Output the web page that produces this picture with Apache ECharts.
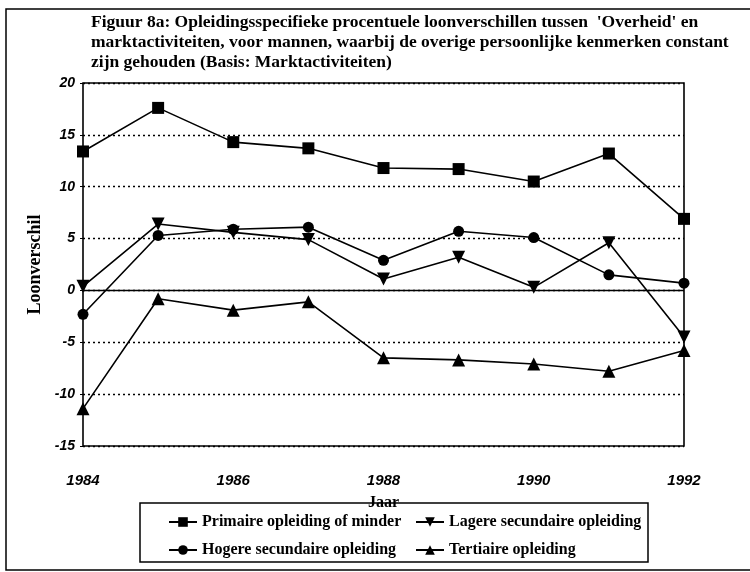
<!DOCTYPE html>
<html>
<head>
<meta charset="utf-8">
<script src="https://cdn.jsdelivr.net/npm/echarts@6/dist/echarts.min.js"></script>
<style>
  html, body { margin: 0; padding: 0; background: #fff; }
  #chart { width: 750px; height: 572px; }
</style>
</head>
<body>
<div id="chart"></div>
<script>
var dom = document.getElementById("chart");
var myChart = echarts.init(dom);

// data
var jaren = ['1984', '1985', '1986', '1987', '1988', '1989', '1990', '1991', '1992'];
var primaire = [13.4, 17.6, 14.3, 13.7, 11.8, 11.7, 10.5, 13.2, 6.9];
var lagere = [0.4, 6.4, 5.6, 4.9, 1.1, 3.2, 0.3, 4.6, -4.5];
var hogere = [-2.3, 5.3, 5.9, 6.1, 2.9, 5.7, 5.1, 1.5, 0.7];
var tertiaire = [-11.4, -0.8, -1.9, -1.1, -6.5, -6.7, -7.1, -7.8, -5.8];

var serif = 'Liberation Serif';
var legendText = { fontFamily: serif, fontWeight: 'bold', fontSize: 16, color: '#000' };

function lijn(naam, data, symbool, grootte) {
	return {
		name: naam,
		type: 'line',
		data: data,
		symbol: symbool,
		symbolSize: grootte,
		itemStyle: { color: '#000' },
		lineStyle: { color: '#000', width: 1.6 },
		animation: false
	};
}

function legenda(naam, left, top) {
	return {
		data: [naam],
		left: left,
		top: top,
		padding: 0,
		itemWidth: 28,
		itemHeight: 12,
		itemGap: 4,
		textStyle: legendText,
		selectedMode: false
	};
}

var series = [
	lijn('Primaire opleiding of minder', primaire, 'rect', 12),
	lijn('Hogere secundaire opleiding', hogere, 'circle', 11),
	lijn('Lagere secundaire opleiding', lagere, 'path://M0,0 L10,0 L5,9 Z', 13),
	lijn('Tertiaire opleiding', tertiaire, 'triangle', 13)
];
// nul-lijn
series[0].markLine = {
	silent: true,
	symbol: 'none',
	label: { show: false },
	lineStyle: { color: '#000', type: 'solid', width: 1.3 },
	data: [{ yAxis: 0 }]
};

option = {
	backgroundColor: '#fff',
	title: {
		text: "Figuur 8a: Opleidingsspecifieke procentuele loonverschillen tussen  'Overheid' en\nmarktactiviteiten, voor mannen, waarbij de overige persoonlijke kenmerken constant\nzijn gehouden (Basis: Marktactiviteiten)",
		left: 86,
		top: 7,
		textStyle: { fontFamily: serif, fontWeight: 'bold', fontSize: 17.5, lineHeight: 20, color: '#000' }
	},
	legend: [
		legenda('Primaire opleiding of minder', 168, 514),
		legenda('Lagere secundaire opleiding', 415, 514),
		legenda('Hogere secundaire opleiding', 168, 542),
		legenda('Tertiaire opleiding', 415, 542)
	],
	grid: {
		left: 83,
		right: 66,
		top: 83,
		bottom: 126,
		show: true,
		borderColor: '#000',
		borderWidth: 1.6,
		backgroundColor: 'transparent'
	},
	xAxis: {
		type: 'category',
		data: jaren,
		boundaryGap: false,
		name: 'Jaar',
		nameLocation: 'middle',
		nameGap: 49,
		nameTextStyle: { fontFamily: serif, fontWeight: 'bold', fontSize: 16, color: '#000' },
		axisLine: { show: false },
		axisTick: { show: false },
		axisLabel: {
			interval: 1,
			margin: 27,
			fontFamily: 'Liberation Sans',
			fontWeight: 'bold',
			fontStyle: 'italic',
			fontSize: 15,
			color: '#000'
		},
		splitLine: { show: false }
	},
	yAxis: {
		type: 'value',
		min: -15,
		max: 20,
		interval: 5,
		name: 'Loonverschil',
		nameLocation: 'middle',
		nameGap: 36,
		nameRotate: 90,
		nameTextStyle: { fontFamily: serif, fontWeight: 'bold', fontSize: 18, color: '#000' },
		axisLine: { show: false },
		axisTick: { show: true, length: 3, lineStyle: { color: '#000' } },
		axisLabel: {
			margin: 8,
			fontFamily: 'Liberation Sans',
			fontWeight: 'bold',
			fontStyle: 'italic',
			fontSize: 14,
			color: '#000'
		},
		splitLine: { show: true, lineStyle: { color: '#000', type: [2, 3], width: 1.3 } }
	},
	graphic: [
		{ type: 'rect', shape: { x: 6, y: 9, width: 760, height: 561 }, style: { fill: 'none', stroke: '#000', lineWidth: 1.5 }, silent: true },
		{ type: 'rect', shape: { x: 140, y: 503, width: 508, height: 59 }, style: { fill: 'none', stroke: '#000', lineWidth: 1.5 }, silent: true }
	],
	series: series
};
if (option && typeof option === "object") {
	myChart.setOption(option, true);
}
</script>
</body>
</html>
